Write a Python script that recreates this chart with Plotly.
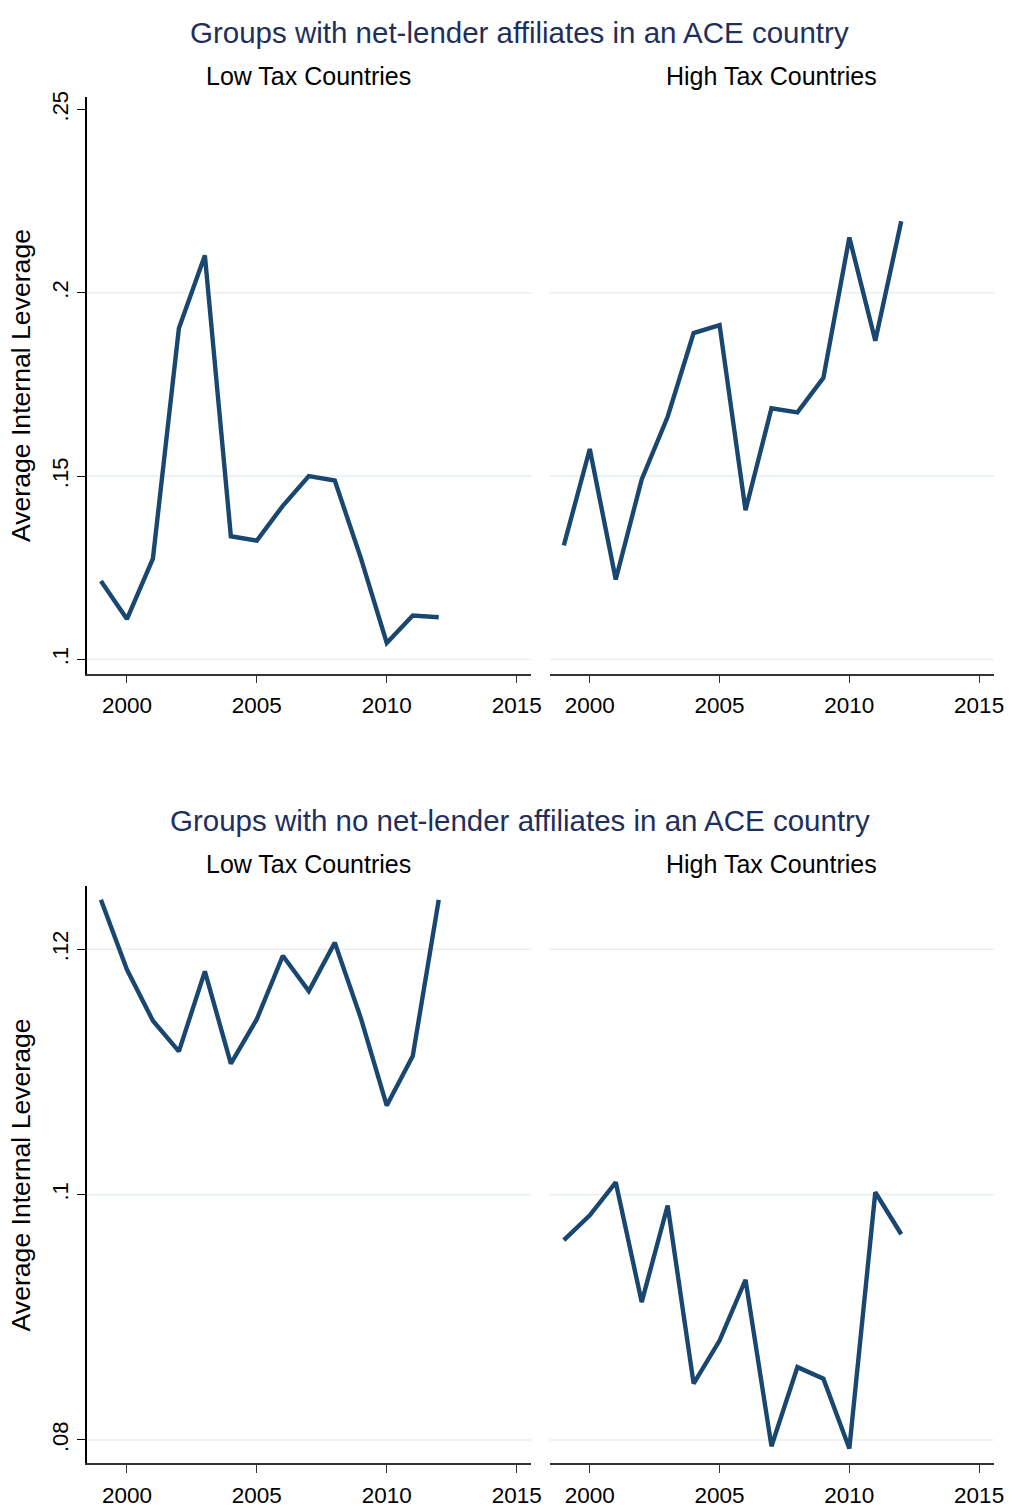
import plotly.graph_objects as go

# Average internal leverage by year, four groups
years = list(range(1999, 2013))

lender_low = [0.1214, 0.1110, 0.1275, 0.1903, 0.2102, 0.1336, 0.1324, 0.1419,
              0.1500, 0.1488, 0.1277, 0.1045, 0.1120, 0.1115]
lender_high = [0.1311, 0.1574, 0.1218, 0.1491, 0.1662, 0.1890, 0.1912, 0.1407,
               0.1685, 0.1674, 0.1768, 0.2151, 0.1869, 0.2195]
nolender_low = [0.12403, 0.11834, 0.11417, 0.11167, 0.11820, 0.11068, 0.11430,
                0.11947, 0.11659, 0.12054, 0.11440, 0.10726, 0.11129, 0.12403]
nolender_high = [0.09629, 0.09831, 0.10100, 0.09124, 0.09911, 0.08460, 0.08810,
                 0.09306, 0.07949, 0.08594, 0.08500, 0.07931, 0.10019, 0.09677]

x_ticks = [2000, 2005, 2010, 2015]
top_ticks = [0.1, 0.15, 0.2, 0.25]
top_tick_text = [".1", ".15", ".2", ".25"]
top_grid = [0.1, 0.15, 0.2]
bottom_ticks = [0.08, 0.1, 0.12]
bottom_tick_text = [".08", ".1", ".12"]
bottom_grid = [0.08, 0.1, 0.12]

block_titles = ["Groups with net-lender affiliates in an ACE country",
                "Groups with no net-lender affiliates in an ACE country"]
panel_titles = ["Low Tax Countries", "High Tax Countries"]
y_title = "Average Internal Leverage"

W, H = 1020, 1508
LINE = "#1a476f"
GRID = "#e8eff2"
NAVY = "#1f2f5c"
FONT = "Liberation Sans, Arial, sans-serif"


def px_x(p):
    return p / W


def px_y(p):
    return 1 - p / H


x_domains = [[px_x(87.5), px_x(536.5)], [px_x(555), px_x(1003.5)]]
y_domains = [[px_y(674.3), px_y(91.7)], [px_y(1471.7), px_y(889)]]
y_ranges = [[0.09614, 0.25346], [0.07812, 0.12514]]
x_range = [1998.45, 2015.56]
grids = [top_grid, bottom_grid]

series = [lender_low, lender_high, nolender_low, nolender_high]

fig = go.Figure()
layout = dict(
    width=W, height=H,
    margin=dict(l=0, r=0, t=0, b=0),
    paper_bgcolor="white", plot_bgcolor="white",
    showlegend=False,
    font=dict(family=FONT, color="black"),
)

shapes = []
for i, vals in enumerate(series):
    row, col = divmod(i, 2)
    n = i + 1
    xa = "x" if n == 1 else f"x{n}"
    ya = "y" if n == 1 else f"y{n}"
    # light horizontal gridlines
    for g in grids[row]:
        shapes.append(dict(type="line", xref=f"{xa} domain", yref=ya,
                           x0=0, x1=1, y0=g, y1=g, layer="below",
                           line=dict(color=GRID, width=1.6)))
    fig.add_trace(go.Scatter(x=years, y=vals, mode="lines", xaxis=xa, yaxis=ya,
                             line=dict(color=LINE, width=4.4),
                             hoverinfo="skip"))
    xkey = "xaxis" if n == 1 else f"xaxis{n}"
    ykey = "yaxis" if n == 1 else f"yaxis{n}"
    layout[xkey] = dict(
        domain=x_domains[col], range=x_range, anchor=ya,
        tickvals=x_ticks, ticktext=[str(t) for t in x_ticks],
        ticks="outside", ticklen=8, tickwidth=1.4, tickcolor="#333333",
        ticklabelstandoff=3,
        showline=True, linecolor="#333333", linewidth=1.6,
        showgrid=False, zeroline=False,
        tickfont=dict(size=22.5, family=FONT, color="black"),
    )
    ticks = top_ticks if row == 0 else bottom_ticks
    ttext = top_tick_text if row == 0 else bottom_tick_text
    left = col == 0
    layout[ykey] = dict(
        domain=y_domains[row], range=y_ranges[row], anchor=xa,
        tickvals=ticks, ticktext=ttext,
        showticklabels=left,
        ticks="outside" if left else "", ticklen=8, tickwidth=1.4,
        tickcolor="black", tickangle=-90,
        showline=left, linecolor="black", linewidth=1.6,
        showgrid=False, zeroline=False,
        tickfont=dict(size=22, family=FONT, color="black"),
    )

annotations = []
title_y = [27, 823]
sub_y = [71, 867]
for b in range(2):
    annotations.append(dict(
        text=block_titles[b], x=px_x(525), y=px_y(title_y[b]),
        xref="paper", yref="paper", xanchor="center", yanchor="middle",
        showarrow=False, font=dict(size=29.5, color=NAVY, family=FONT)))
    for c in range(2):
        cx = (x_domains[c][0] + x_domains[c][1]) / 2
        annotations.append(dict(
            text=panel_titles[c], x=cx, y=px_y(sub_y[b]),
            xref="paper", yref="paper", xanchor="center", yanchor="middle",
            showarrow=False, font=dict(size=25, color="black", family=FONT)))
    annotations.append(dict(
        text=y_title, x=px_x(21), y=sum(y_domains[b]) / 2,
        xref="paper", yref="paper", xanchor="center", yanchor="middle",
        textangle=-90, showarrow=False,
        font=dict(size=26.6, color="black", family=FONT)))

layout["annotations"] = annotations
layout["shapes"] = shapes
fig.update_layout(**layout)
fig.write_html("out.html")
